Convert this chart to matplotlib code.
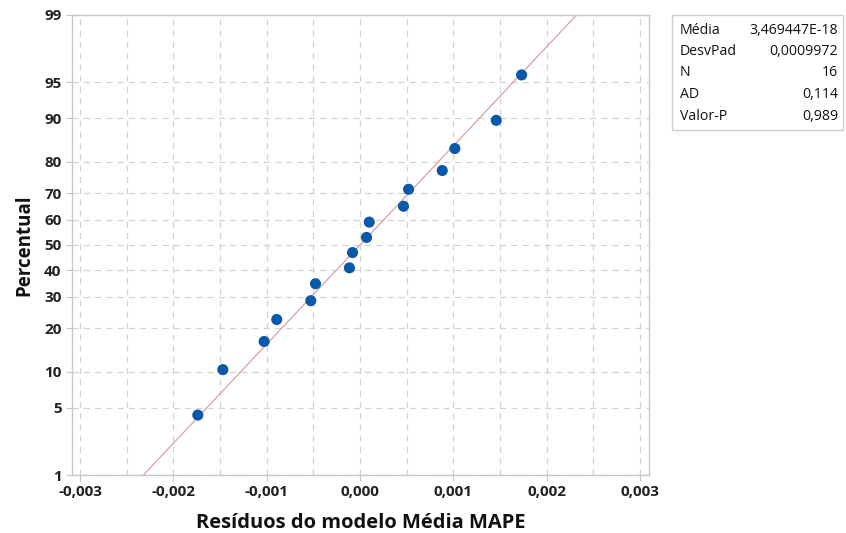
from statistics import NormalDist
import matplotlib
matplotlib.use("Agg")
import matplotlib.pyplot as plt
from matplotlib.patches import Rectangle
import numpy as np

plt.rcParams['font.family'] = ['Open Sans', 'DejaVu Sans']

# residuals, with their plotting percentiles
residuos = [-0.001738, -0.001470, -0.001027, -0.000892, -0.000527, -0.000477,
            -0.000113, -0.000080, 0.000070, 0.000099, 0.000466, 0.000520,
            0.000881, 0.001016, 0.001460, 0.001731]
percentual = [4.27, 10.37, 16.46, 22.56, 28.66, 34.76, 40.85, 46.95,
              53.05, 59.15, 65.24, 71.34, 77.44, 83.54, 89.63, 95.73]

media = 3.469447e-18
desvpad = 0.0009972

stat_names = ['Média', 'DesvPad', 'N', 'AD', 'Valor-P']
stat_values = ['3,469447E-18', '0,0009972', '16', '0,114', '0,989']

x_ticks = [-0.003, -0.002, -0.001, 0.0, 0.001, 0.002, 0.003]
x_tick_labels = ['-0,003', '-0,002', '-0,001', '0,000', '0,001', '0,002', '0,003']
x_minor = [-0.0025, -0.0015, -0.0005, 0.0005, 0.0015, 0.0025]
y_ticks = [1, 5, 10, 20, 30, 40, 50, 60, 70, 80, 90, 95, 99]

nd = NormalDist()
_ppf = np.vectorize(lambda p: nd.inv_cdf(min(max(p / 100.0, 1e-12), 1 - 1e-12)),
                    otypes=[float])
_cdf = np.vectorize(lambda z: nd.cdf(z) * 100.0, otypes=[float])


def fwd(p):
    return _ppf(np.asarray(p, dtype=float))


def inv(z):
    return _cdf(np.asarray(z, dtype=float))


fig = plt.figure(figsize=(8.46, 5.33), dpi=100)
ax = fig.add_axes([0.0851, 0.1088, 0.6820, 0.8631])
ax.set_yscale('function', functions=(fwd, inv))

grid_col = '#d4d4d4'
for xv in x_ticks + x_minor:
    ax.axvline(xv, color=grid_col, lw=0.9, ls=(0, (5, 4)), zorder=0)
for yv in y_ticks:
    ax.axhline(yv, color=grid_col, lw=0.9, ls=(0, (5, 4)), zorder=0)

# fitted normal line
p_line = np.array([0.5, 99.5])
x_line = [media + desvpad * nd.inv_cdf(p / 100.0) for p in p_line]
ax.plot(x_line, p_line, color='#dca0a0', lw=0.9, zorder=2)

ax.scatter(residuos, percentual, s=64, color='#0a58a8', edgecolors='none', zorder=3)

ax.set_xlim(-0.003086, 0.003096)
ax.set_ylim(1, 99)
ax.set_xticks(x_ticks)
ax.set_xticklabels(x_tick_labels)
ax.set_yticks(y_ticks)
ax.set_yticklabels([str(v) for v in y_ticks])
ax.minorticks_off()

for sp in ax.spines.values():
    sp.set_color('#c8c8c8')
    sp.set_linewidth(1.0)
ax.tick_params(axis='both', colors='#c8c8c8', labelcolor='#222222',
               labelsize=11, length=4, width=0.9)
for lab in ax.get_xticklabels() + ax.get_yticklabels():
    lab.set_fontweight('bold')

ax.set_xlabel('Resíduos do modelo Média MAPE', fontsize=14.5, fontweight='bold',
              color='#111111', labelpad=10)
ax.set_ylabel('Percentual', fontsize=13.5, fontweight='bold', color='#111111',
              labelpad=7)

# statistics box
W, H = 846.0, 533.0
box = Rectangle((672 / W, 1 - 130 / H), (843 - 672) / W, (130 - 15) / H,
                transform=fig.transFigure, facecolor='white',
                edgecolor='#cfcfcf', lw=1.0)
fig.patches.append(box)
for i, (nm, val) in enumerate(zip(stat_names, stat_values)):
    yy = 1 - (30 + i * 21.5) / H
    fig.text(680 / W, yy, nm, fontsize=10.2, ha='left', va='center',
             color='#111111', fontweight='medium')
    fig.text(838 / W, yy, val, fontsize=10.2, ha='right', va='center',
             color='#111111', fontweight='medium')

fig.savefig('out.png', dpi=100)
